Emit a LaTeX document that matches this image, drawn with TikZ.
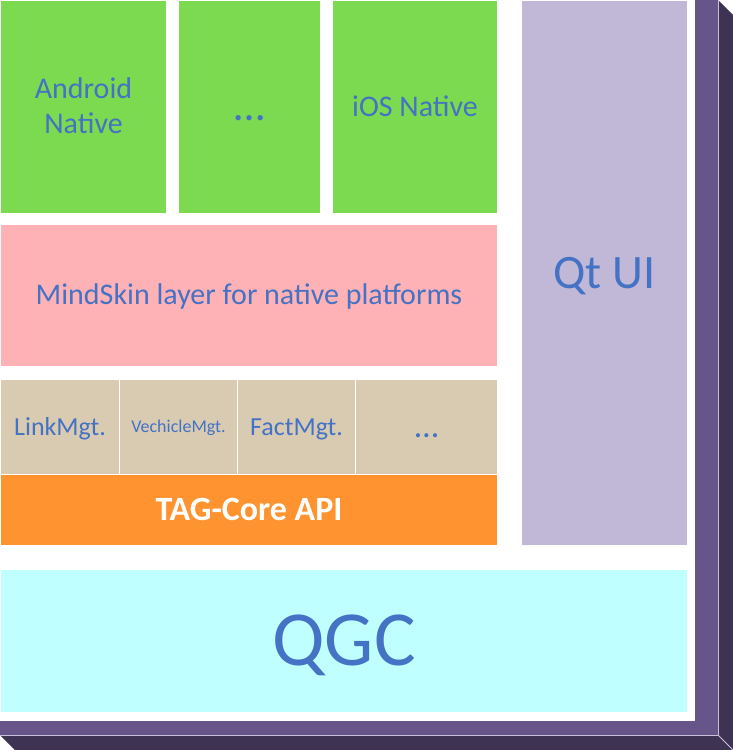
\documentclass[tikz,border=0pt]{standalone}
\usepackage{fontspec}
\setmainfont{Carlito}
\definecolor{cgreen}{RGB}{124,218,80}
\definecolor{cpink}{RGB}{255,178,182}
\definecolor{ctan}{RGB}{216,203,178}
\definecolor{corange}{RGB}{255,147,48}
\definecolor{clav}{RGB}{192,184,214}
\definecolor{ccyan}{RGB}{192,255,255}
\definecolor{cmedp}{RGB}{103,85,138}
\definecolor{cdarkp}{RGB}{63,51,83}
\definecolor{cbevel}{RGB}{200,192,216}
\definecolor{ctxt}{RGB}{68,114,196}
\begin{document}
\begin{tikzpicture}[x=1pt,y=-1pt,
  blk/.style={draw=none, inner sep=0pt, outer sep=0pt, text=ctxt, text depth=0pt},
  lbl/.style={inner sep=0pt, outer sep=0pt, text=ctxt, text depth=0pt},
  fs/.code={\pgfmathsetmacro\mytexth{0.63*#1}%
    \edef\mytmpset{\noexpand\tikzset{font=\noexpand\fontsize{#1}{#1}\noexpand\selectfont, text height=\mytexth pt}}\mytmpset},
]
\useasboundingbox (0,0) rectangle (733,750);
% 3D frame
\fill[cdarkp] (718,0) -- (733,15) -- (733,750) -- (15,750) -- (0,735) -- (718,735) -- cycle;
\fill[cmedp] (0,0) rectangle (718,735);
\draw[cbevel, line width=0.8pt] (718,0) -- (718,735) -- (0,735);
\draw[cbevel, line width=0.8pt] (718,735) -- (733,750);
\fill[white] (0,0) rectangle (695,721);
% top row
\node[blk, fill=cgreen, minimum width=165pt, minimum height=212pt] (android) at (83.5,107) {};
\node[lbl, fs=30] (androidA) at (83.5,89.5) {Android};
\node[lbl, fs=30] (androidB) at (83.5,124.5) {Native};
\node[blk, fill=cgreen, fs=44, minimum width=141pt, minimum height=212pt] (dotsA) at (249.5,107) {…};
\node[blk, fill=cgreen, fs=30, minimum width=164pt, minimum height=212pt] (ios) at (415,107) {iOS Native};
% MindSkin
\node[blk, fill=cpink, fs=30, minimum width=496pt, minimum height=141pt] (mindskin) at (249,295.5) {MindSkin layer for native platforms};
% managers
\node[blk, fill=ctan, fs=26, minimum width=118pt, minimum height=94pt] (link) at (60,427) {LinkMgt.};
\node[blk, fill=ctan, fs=18, minimum width=117pt, minimum height=94pt] (vech) at (178.5,427) {VechicleMgt.};
\node[blk, fill=ctan, fs=26, minimum width=117pt, minimum height=94pt] (fact) at (296.5,427) {FactMgt.};
\node[blk, fill=ctan, fs=34, minimum width=141pt, minimum height=94pt] (dotsB) at (426.5,427) {…};
% TAG-Core
\node[blk, fill=corange, text=white, fs=34, font=\fontsize{34}{34}\selectfont\bfseries, minimum width=496pt, minimum height=70pt] (tag) at (249,510) {TAG-Core API};
% Qt UI
\node[blk, fill=clav, fs=48, minimum width=165pt, minimum height=544pt] (qtui) at (604.5,273) {Qt UI};
% QGC
\node[blk, fill=ccyan, fs=78, minimum width=686pt, minimum height=142pt] (qgc) at (344,641) {QGC};
\end{tikzpicture}
\end{document}
